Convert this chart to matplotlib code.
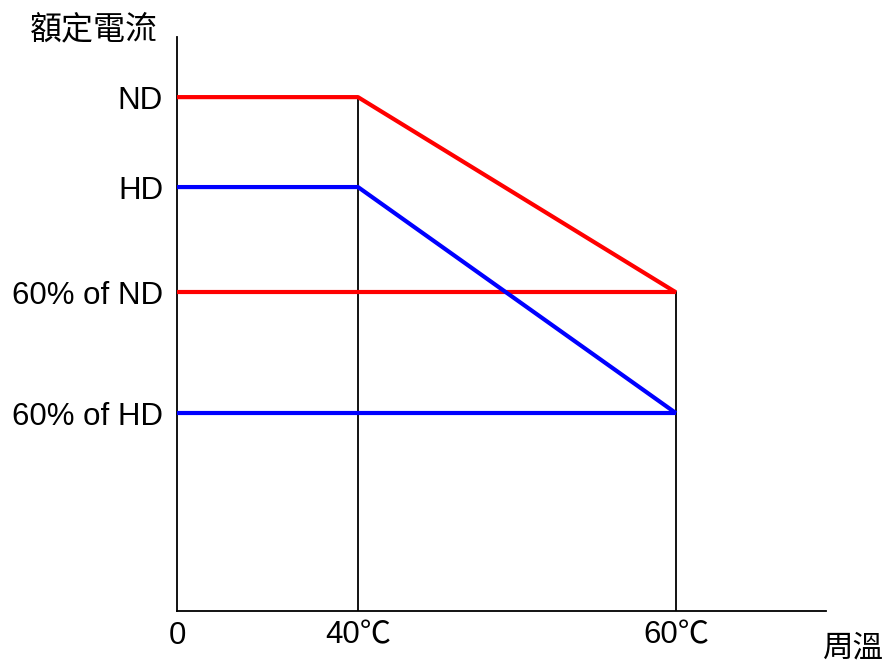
import numpy as np
import matplotlib
matplotlib.use("Agg")
import matplotlib.pyplot as plt

plt.rcParams['font.family'] = ['Liberation Sans', 'Noto Sans CJK TC', 'DejaVu Sans']

# temperatures (℃) and the schematic current levels (ND = 100)
temps = [0, 40, 60]
temp_labels = ['0', '40℃', '60℃']
nd = [100, 100, 62]
hd = [82.5, 82.5, 38.5]
nd_60 = 62
hd_60 = 38.5
level_labels = ['ND', 'HD', '60% of ND', '60% of HD']
levels = [100, 82.5, 62, 38.5]

# the drawing is not to scale on x: piecewise mapping of temperature to axis length
x_knots = [0, 40, 60, 80]
x_axis = [0, 181, 499, 649]


def fwd(v):
    return np.interp(v, x_knots, x_axis, left=np.nan, right=np.nan)


def inv(v):
    return np.interp(v, x_axis, x_knots, left=np.nan, right=np.nan)


fig = plt.figure(figsize=(8.91, 6.62), dpi=100)
ax = fig.add_axes([177 / 891, 51 / 662, 649 / 891, 574 / 662])
ax.set_xscale('function', functions=(fwd, inv))
ax.set_xlim(0, 80)
ax.set_ylim(0, 111.7)

for s in ['top', 'right']:
    ax.spines[s].set_visible(False)
for s in ['left', 'bottom']:
    ax.spines[s].set_linewidth(1.3)
    ax.spines[s].set_color('black')

# vertical guide lines
ax.plot([temps[1], temps[1]], [0, nd[1]], color='black', lw=1.3, zorder=1)
ax.plot([temps[2], temps[2]], [0, nd[2]], color='black', lw=1.3, zorder=1)

lw = 3
ax.plot(temps, nd, color='#ff0000', lw=lw, solid_capstyle='butt', clip_on=False, zorder=3)
ax.plot([temps[0], temps[2]], [nd_60, nd_60], color='#ff0000', lw=lw,
        solid_capstyle='butt', clip_on=False, zorder=3)
ax.plot(temps, hd, color='#0000ff', lw=lw, solid_capstyle='butt', clip_on=False, zorder=3)
ax.plot([temps[0], temps[2]], [hd_60, hd_60], color='#0000ff', lw=lw,
        solid_capstyle='butt', clip_on=False, zorder=3)

ax.set_xticks(temps)
ax.set_xticklabels(temp_labels, fontsize=22.5)
ax.set_yticks(levels)
ax.set_yticklabels(level_labels, fontsize=22.5)
ax.tick_params(axis='both', length=0)
ax.tick_params(axis='x', pad=7)
ax.tick_params(axis='y', pad=10)

fig.text(30 / 891, 1 - 29 / 662, '額定電流', fontsize=23, ha='left', va='center',
         family=['Noto Sans CJK TC'])
fig.text(823 / 891, 1 - 648 / 662, '周溫', fontsize=22, ha='left', va='center',
         family=['Noto Sans CJK TC'])

fig.savefig('out.png', dpi=100)
